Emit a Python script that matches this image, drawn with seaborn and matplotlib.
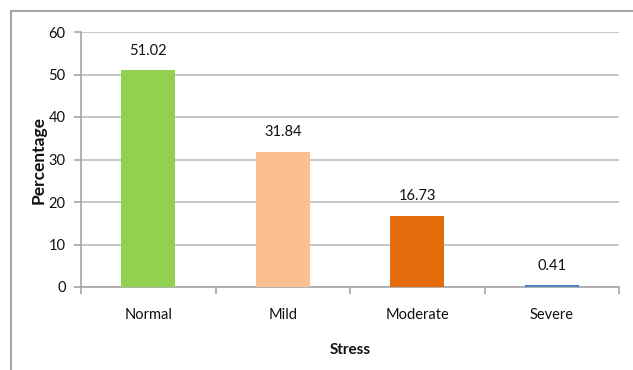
import matplotlib
matplotlib.use("Agg")
import matplotlib.pyplot as plt
from matplotlib.patches import Rectangle
import seaborn as sns
import pandas as pd

categories = ["Normal", "Mild", "Moderate", "Severe"]
percentages = [51.02, 31.84, 16.73, 0.41]
bar_colors = ["#92D050", "#FAC090", "#E46C0A", "#4F81BD"]
y_ticks = [0, 10, 20, 30, 40, 50, 60]

sns.set_theme(style="white")
plt.rcParams["font.family"] = ["Lato", "DejaVu Sans"]

df = pd.DataFrame({"Stress": categories, "Percentage": percentages})

fig = plt.figure(figsize=(6.33, 3.70), dpi=100)
fig.patch.set_facecolor("white")
ax = fig.add_axes([81 / 633, 83 / 370, 538 / 633, 255 / 370])

sns.barplot(data=df, x="Stress", y="Percentage", hue="Stress",
            palette=bar_colors, width=0.4, legend=False, ax=ax,
            saturation=1, linewidth=0, zorder=3)

for container in ax.containers:
    ax.bar_label(container, fmt="%.2f", padding=9, fontsize=10.5, color="#111111")

ax.set_xlim(-0.5, 3.5)
ax.set_ylim(0, 60)
ax.set_yticks(y_ticks)
ax.yaxis.grid(True, color="#BEBEBE", linewidth=1.2, zorder=0)
ax.set_axisbelow(True)

for side in ["top", "right"]:
    ax.spines[side].set_visible(False)
for side in ["left", "bottom"]:
    ax.spines[side].set_color("#A6A6A6")
    ax.spines[side].set_linewidth(1.2)

ax.tick_params(axis="y", which="major", left=True, length=5, width=1.2,
               color="#A6A6A6", labelsize=10.5, labelcolor="#111111", pad=6)
ax.tick_params(axis="x", which="major", bottom=False, labelsize=10.5,
               labelcolor="#111111", pad=9)
ax.set_xticks([-0.5, 0.5, 1.5, 2.5, 3.5], minor=True)
ax.tick_params(axis="x", which="minor", bottom=True, length=5, width=1.2,
               color="#A6A6A6")

ax.set_xlabel("Stress", fontsize=11, fontweight="bold", labelpad=15, color="#111111")
ax.set_ylabel("Percentage", fontsize=12.5, fontweight="bold", labelpad=1.5, color="#111111")

# outer chart-area frame
fig.patches.append(Rectangle((11 / 633, -0.05), 1.1, (370 - 11) / 370 + 0.05,
                             transform=fig.transFigure, fill=False,
                             edgecolor="#A6A6A6", linewidth=1.5, zorder=0))

fig.savefig("out.png", dpi=100, facecolor="white")
